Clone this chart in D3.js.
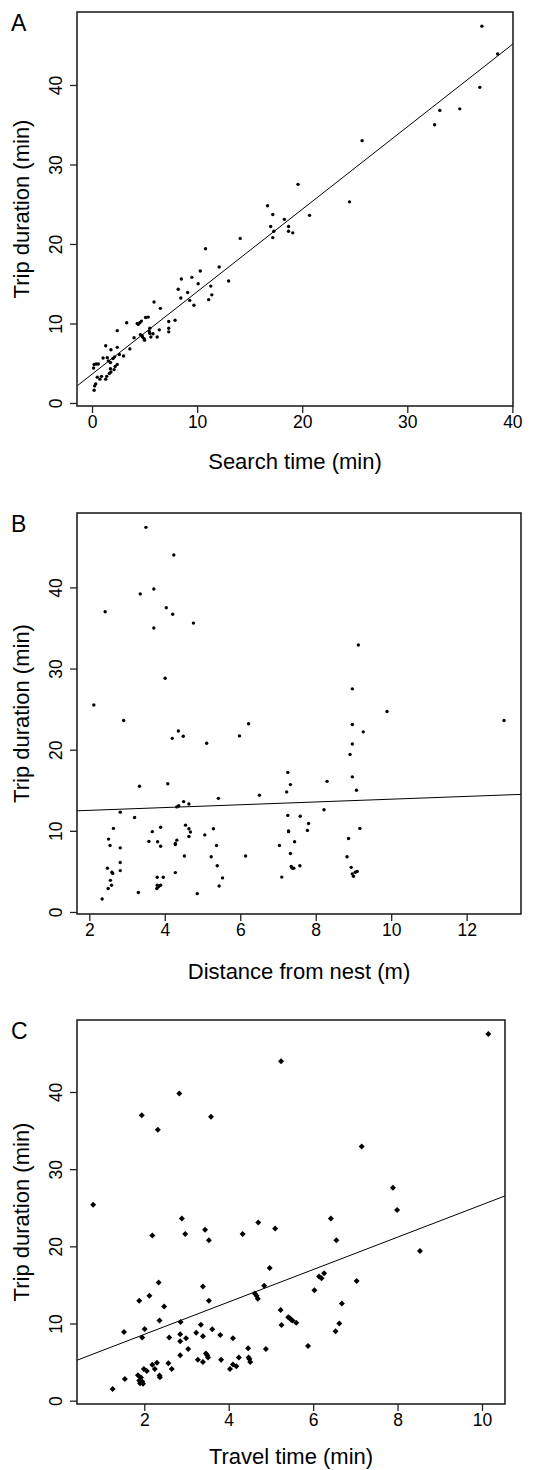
<!DOCTYPE html>
<html>
<head>
<meta charset="utf-8">
<script src="https://cdn.jsdelivr.net/npm/d3@7/dist/d3.min.js"></script>
<style>
  body { margin: 0; background: #fff; }
  svg text { font-family: "Liberation Sans", Arial, Helvetica, sans-serif; fill: #000; }
</style>
</head>
<body>
<svg id="fig" width="533" height="1470"></svg>
<script>
// ---- Panel A : search time vs trip duration
var searchTime = [37.1, 38.6, 36.9, 32.6, 33.1, 35.0, 25.7,
  19.6, 24.5, 16.7, 17.2, 20.7, 18.3, 17.0, 18.7, 17.3, 18.7, 19.1, 17.2, 14.1, 10.8, 12.1, 10.3, 8.5, 9.5,
  13.0, 8.2, 9.1, 10.1, 11.3, 8.45, 11.4, 9.3, 11.1, 9.7, 5.9, 6.5,
  3.3, 4.3, 4.4, 4.55, 4.7, 5.1, 5.35, 2.4, 6.4, 7.3, 7.9, 7.3, 7.3, 5.5, 5.8, 4.6, 4.75, 4.8, 4.95, 5.45,
  5.6, 5.5, 6.2, 4.0, 5.0, 1.3, 2.4, 1.8, 3.6, 3.0, 2.6, 1.05, 1.45, 1.55, 1.75, 2.0, 2.15, 0.15, 0.2,
  0.4, 0.6, 2.4, 2.2, 1.75, 1.8, 1.65, 2.1, 0.5, 0.75, 0.9, 1.3, 1.4, 0.35, 0.25, 0.2];
var tripA = [47.4, 43.9, 39.7, 35.0, 36.8, 37.0, 33.0,
  27.5, 25.3, 24.8, 23.7, 23.6, 23.1, 22.2, 22.2, 21.6, 21.6, 21.4, 20.8, 20.7, 19.4, 17.1, 16.6, 15.6, 15.8,
  15.35, 14.3, 13.9, 15.0, 14.7, 13.2, 13.6, 12.9, 13.0, 12.3, 12.7, 11.9,
  10.1, 10.0, 9.9, 10.1, 10.3, 10.75, 10.8, 9.1, 9.2, 10.25, 10.4, 9.4, 8.95, 9.4, 8.7, 8.6, 8.5, 8.3, 8.1, 9.0,
  8.3, 8.75, 8.3, 8.2, 7.9, 7.2, 7.0, 6.7, 6.8, 5.9, 6.1, 5.65, 5.7, 5.3, 5.1, 5.6, 5.8, 4.4, 4.85,
  4.9, 4.9, 4.85, 4.6, 4.3, 3.9, 3.7, 4.2, 3.25, 3.0, 3.35, 3.0, 3.35, 2.4, 2.15, 1.6];
var fitA = [3.62, 1.037];            // intercept, slope
var xLimA = [-1.43, 40.06];
var yLimA = [-0.38, 49.18];
var xTicksA = [0, 10, 20, 30, 40];

// ---- Panel B : distance from nest vs trip duration
var distNest = [3.50, 4.24, 3.71, 3.35, 2.42, 4.04, 4.21, 4.76, 3.71,
  9.13, 4.01, 8.97, 2.12, 9.89, 2.91, 6.22, 12.99, 8.97, 4.36, 9.26, 4.20, 4.49, 5.98, 5.11, 8.97, 8.91,
  7.26, 8.97, 4.08, 3.33, 7.33, 8.30, 7.23, 6.51, 9.08, 5.42,
  4.50, 4.37, 4.32, 4.64,
  2.82, 3.20, 8.22, 7.26, 7.59, 7.81, 7.78, 7.28, 7.28, 9.17, 2.64, 3.89, 3.67, 4.55, 4.64, 4.68, 4.64, 5.29, 5.06,
  2.51, 2.55, 2.82, 3.58, 3.81, 3.89, 4.32, 4.28, 4.28, 5.37, 7.04, 7.44, 8.87, 7.33, 4.52, 5.23, 6.14, 8.83,
  5.39, 7.58, 7.35, 7.38, 7.42, 8.94, 8.97, 9.00, 9.05, 9.10, 2.48, 2.60, 2.62, 2.82, 2.82, 2.56, 2.59, 2.50,
  2.34, 3.30, 3.80, 3.96, 3.80, 3.85, 3.89, 3.79, 3.83, 4.28, 4.86, 5.53, 5.44, 7.10];
var tripB = [47.4, 44.0, 39.8, 39.2, 37.0, 37.5, 36.7, 35.6, 35.0,
  32.9, 28.8, 27.5, 25.5, 24.7, 23.6, 23.2, 23.6, 23.1, 22.3, 22.2, 21.4, 21.65, 21.7, 20.8, 20.7, 19.4,
  17.2, 16.65, 15.8, 15.5, 15.7, 16.1, 14.8, 14.4, 15.0, 14.0,
  13.6, 13.1, 12.95, 13.3,
  12.3, 11.65, 12.6, 11.9, 11.8, 10.9, 10.05, 10.0, 9.9, 10.3, 10.3, 10.45, 9.9, 10.7, 10.25, 9.85, 9.3, 10.25, 9.5,
  8.98, 8.2, 7.9, 8.7, 8.65, 8.1, 8.85, 8.45, 8.3, 8.2, 8.2, 8.65, 9.05, 7.2, 6.9, 6.8, 6.9, 6.8,
  5.7, 5.7, 5.6, 5.4, 5.4, 5.5, 4.7, 4.4, 4.9, 5.0, 5.4, 4.9, 4.75, 5.1, 6.1, 3.9, 3.3, 2.9,
  1.6, 2.4, 4.27, 4.27, 3.3, 3.2, 3.3, 2.9, 3.1, 4.85, 2.26, 4.2, 3.2, 4.3];
var fitB = [12.18, 0.172];
var xLimB = [1.674, 13.44];
var yLimB = [-0.25, 49.17];
var xTicksB = [2, 4, 6, 8, 10, 12];

// ---- Panel C : travel time vs trip duration
var travelTime = [10.15, 5.24, 2.83, 1.94, 3.58, 2.32, 7.15, 0.79, 7.89, 7.99, 2.89, 6.42, 4.70, 3.44, 5.10,
  2.19, 2.97, 4.33, 3.53, 6.55, 8.53, 4.97, 2.34, 3.39, 4.84, 6.03, 6.14, 6.20, 6.26, 7.03,
  1.25, 1.54, 1.52, 1.88, 2.12, 2.47, 2.36, 2.86, 1.95, 2.01, 2.59, 2.85, 2.85, 2.99, 3.04, 2.85, 3.23,
  3.34, 3.39, 3.53, 3.61, 3.80, 4.10, 3.27, 3.39, 3.46, 3.49, 3.51, 3.82, 4.46, 4.88, 4.47, 4.49, 4.51,
  4.03, 4.10, 4.18, 4.24, 1.85, 1.92, 1.88, 1.95, 1.90, 1.97, 1.99, 2.06, 2.19, 2.25, 2.30, 2.36, 2.37,
  2.57, 2.65, 4.62, 4.66, 4.69, 5.23, 5.25, 5.41, 5.44, 5.48, 5.51, 5.60, 5.88, 6.53, 6.62, 6.68];
var tripC = [47.5, 44.0, 39.8, 37.0, 36.8, 35.1, 32.95, 25.4, 27.6, 24.7, 23.6, 23.6, 23.1, 22.15, 22.3,
  21.4, 21.6, 21.6, 20.8, 20.8, 19.4, 17.2, 15.3, 14.8, 14.9, 14.3, 16.1, 15.85, 16.5, 15.5,
  1.5, 2.8, 8.9, 12.95, 13.6, 12.2, 10.4, 10.2, 8.2, 9.3, 8.2, 8.6, 7.7, 8.1, 6.7, 5.9, 8.8,
  9.85, 8.35, 12.95, 9.25, 8.5, 8.1, 5.3, 5.0, 6.1, 5.9, 5.6, 5.3, 6.8, 6.7, 5.6, 5.4, 5.0,
  4.1, 4.7, 4.45, 5.6, 3.3, 3.0, 2.6, 2.5, 2.25, 2.2, 4.1, 3.85, 4.65, 4.1, 4.9, 3.25, 3.05,
  4.85, 4.1, 13.9, 13.6, 13.2, 11.75, 9.8, 10.8, 10.7, 10.5, 10.4, 10.1, 7.1, 9.0, 10.0, 12.6];
var fitC = [4.39, 2.10];
var xLimC = [0.406, 10.545];
var yLimC = [-0.43, 49.33];
var xTicksC = [2, 4, 6, 8, 10];

var yTicks = [0, 10, 20, 30, 40];
var yTitle = "Trip duration (min)";

// layout of the three panels
var panels = [
  { letter: "A", xs: searchTime, ys: tripA, fit: fitA, xlim: xLimA, ylim: yLimA, xticks: xTicksA,
    xlab: "Search time (min)", left: 77, right: 513, top: 12, bottom: 406, labGap: 63, mark: "dot" },
  { letter: "B", xs: distNest, ys: tripB, fit: fitB, xlim: xLimB, ylim: yLimB, xticks: xTicksB,
    xlab: "Distance from nest (m)", left: 77, right: 521, top: 513, bottom: 914, labGap: 65, mark: "dot" },
  { letter: "C", xs: travelTime, ys: tripC, fit: fitC, xlim: xLimC, ylim: yLimC, xticks: xTicksC,
    xlab: "Travel time (min)", left: 77, right: 505, top: 1020, bottom: 1404, labGap: 60, mark: "diamond" }
];

var svg = d3.select("#fig");

panels.forEach(function (p, i) {
  var x = d3.scaleLinear().domain(p.xlim).range([p.left, p.right]);
  var y = d3.scaleLinear().domain(p.ylim).range([p.bottom, p.top]);
  var g = svg.append("g").attr("class", "panel");

  // clip for the fitted line
  svg.append("clipPath").attr("id", "clip" + i)
    .append("rect")
    .attr("x", p.left).attr("y", p.top)
    .attr("width", p.right - p.left).attr("height", p.bottom - p.top);

  // x axis
  var xa = g.append("g")
    .attr("transform", "translate(0," + p.bottom + ")")
    .call(d3.axisBottom(x).tickValues(p.xticks).tickSize(7).tickPadding(3).tickFormat(d3.format("d")));
  xa.select(".domain").remove();
  xa.selectAll("line").attr("stroke", "#222").attr("stroke-width", 1.3);
  xa.selectAll("text").attr("font-size", 17.5).attr("fill", "#000");

  // y axis, labels parallel to the axis (R style)
  var ya = g.append("g")
    .attr("transform", "translate(" + p.left + ",0)")
    .call(d3.axisLeft(y).tickValues(yTicks).tickSize(7).tickFormat(d3.format("d")));
  ya.select(".domain").remove();
  ya.selectAll("line").attr("stroke", "#222").attr("stroke-width", 1.3);
  ya.selectAll("text")
    .attr("x", 0).attr("dy", 0)
    .attr("transform", "translate(-15,0) rotate(-90)")
    .attr("text-anchor", "middle")
    .attr("font-size", 17.5).attr("fill", "#000");

  // regression line
  g.append("line")
    .attr("clip-path", "url(#clip" + i + ")")
    .attr("x1", x(p.xlim[0])).attr("y1", y(p.fit[0] + p.fit[1] * p.xlim[0]))
    .attr("x2", x(p.xlim[1])).attr("y2", y(p.fit[0] + p.fit[1] * p.xlim[1]))
    .attr("stroke", "#000").attr("stroke-width", 1);

  // points
  var pts = p.xs.map(function (v, k) { return [v, p.ys[k]]; });
  if (p.mark == "dot") {
    g.selectAll(".pt").data(pts).enter().append("circle")
      .attr("class", "pt")
      .attr("cx", function (d) { return x(d[0]); })
      .attr("cy", function (d) { return y(d[1]); })
      .attr("r", 1.7)
      .attr("fill", "#000");
  } else {
    var sym = d3.symbol().type(d3.symbolSquare).size(18);
    g.selectAll(".pt").data(pts).enter().append("path")
      .attr("class", "pt")
      .attr("d", sym)
      .attr("transform", function (d) { return "translate(" + x(d[0]) + "," + y(d[1]) + ") rotate(45)"; })
      .attr("fill", "#000");
  }

  // plot box
  g.append("rect")
    .attr("x", p.left).attr("y", p.top)
    .attr("width", p.right - p.left).attr("height", p.bottom - p.top)
    .attr("fill", "none").attr("stroke", "#222").attr("stroke-width", 1.6);

  // titles
  g.append("text")
    .attr("x", (p.left + p.right) / 2).attr("y", p.bottom + p.labGap)
    .attr("text-anchor", "middle").attr("font-size", 22)
    .text(p.xlab);
  g.append("text")
    .attr("transform", "translate(29," + (p.top + p.bottom) / 2 + ") rotate(-90)")
    .attr("text-anchor", "middle").attr("font-size", 22)
    .text(yTitle);
  g.append("text")
    .attr("x", 11).attr("y", p.top + 19)
    .attr("font-size", 23)
    .text(p.letter);
});
</script>
</body>
</html>
